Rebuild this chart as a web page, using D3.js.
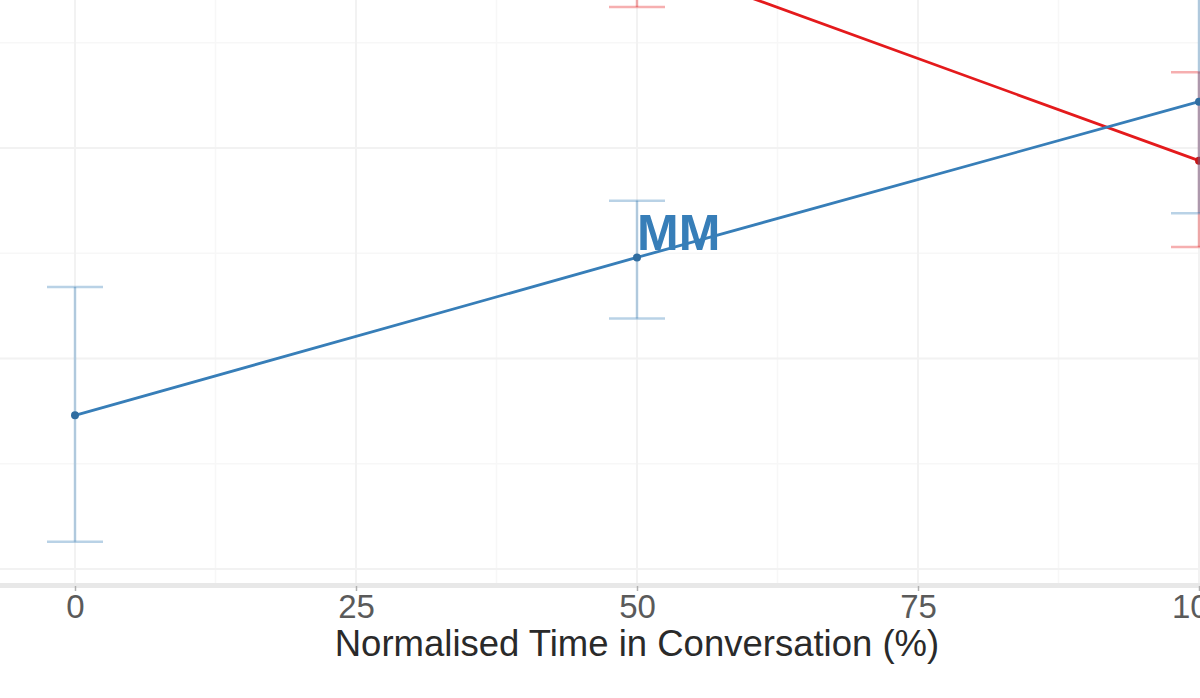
<!DOCTYPE html>
<html>
<head>
<meta charset="utf-8">
<script src="https://cdn.jsdelivr.net/npm/d3@7"></script>
<style>
  body { margin: 0; background: #fff; }
  text { font-family: "Liberation Sans", Arial, sans-serif; }
</style>
</head>
<body>
<svg id="chart"></svg>
<script>
// data (y units are arbitrary, the y axis is cut off)
var times = [0, 50, 100];
var xTicks = [0, 25, 50, 75, 100];
var yMajor = [0.2, 0.3, 0.4];
var yMinor = [0.25, 0.35, 0.45];
var xMinor = [12.5, 37.5, 62.5, 87.5];

var blueMean = [0.273, 0.348, 0.422];
var blueLow  = [0.213, 0.319, 0.369];
var blueHigh = [0.334, 0.375, 0.476];

var redMean = [0.56, 0.491, 0.394];
var redLow  = [0.52, 0.467, 0.353];
var redHigh = [0.60, 0.514, 0.436];

var labelText = "MM";

var W = 1200, H = 698;
var blue = "#377EB8", red = "#E41A1C";

var svg = d3.select("#chart").attr("width", W).attr("height", H);

// panel runs past the window on the right and top
var x = d3.scaleLinear().domain([0, 100]).range([75, 1199]);
var y = d3.scaleLinear().domain([0.2, 0.4]).range([569, 148]);

// grid
var grid = svg.append("g");
grid.selectAll(".ymin").data(yMinor).enter().append("line")
  .attr("x1", 0).attr("x2", W)
  .attr("y1", function(d) { return y(d); }).attr("y2", function(d) { return y(d); })
  .attr("stroke", "#f7f7f7").attr("stroke-width", 1.5);
grid.selectAll(".xmin").data(xMinor).enter().append("line")
  .attr("y1", 0).attr("y2", 583)
  .attr("x1", function(d) { return x(d); }).attr("x2", function(d) { return x(d); })
  .attr("stroke", "#f7f7f7").attr("stroke-width", 1.5);
grid.selectAll(".ymaj").data(yMajor).enter().append("line")
  .attr("x1", 0).attr("x2", W)
  .attr("y1", function(d) { return y(d); }).attr("y2", function(d) { return y(d); })
  .attr("stroke", "#f2f2f2").attr("stroke-width", 2);
grid.selectAll(".xmaj").data(xTicks).enter().append("line")
  .attr("y1", 0).attr("y2", 583)
  .attr("x1", function(d) { return x(d); }).attr("x2", function(d) { return x(d); })
  .attr("stroke", "#f2f2f2").attr("stroke-width", 2);

// axis line + ticks + labels
svg.append("line").attr("x1", 0).attr("x2", W).attr("y1", 585.5).attr("y2", 585.5)
  .attr("stroke", "#e8e8e8").attr("stroke-width", 5);

var xAxis = svg.append("g")
  .attr("transform", "translate(0,586)")
  .call(d3.axisBottom(x).tickValues(xTicks).tickSize(5).tickPadding(4));
xAxis.select(".domain").remove();
xAxis.selectAll(".tick line").attr("stroke", "#b0b0b0").attr("stroke-width", 1.5);
xAxis.selectAll(".tick text")
  .attr("fill", "#5a5a5a")
  .style("font-size", "33px");

svg.append("text")
  .attr("x", x(50)).attr("y", 656)
  .attr("text-anchor", "middle")
  .attr("fill", "#2a2a2a")
  .style("font-size", "36.5px")
  .text("Normalised Time in Conversation (%)");

// one series: error bars, line, points
function drawSeries(mean, low, high, colour) {
  var rows = times.map(function(t, i) {
    return { t: t, m: mean[i], lo: low[i], hi: high[i] };
  });
  var g = svg.append("g");
  var eb = g.selectAll(".eb").data(rows).enter().append("g")
    .attr("stroke", colour).attr("stroke-opacity", 0.35).attr("stroke-width", 2.5);
  eb.append("line")
    .attr("x1", function(d) { return x(d.t); }).attr("x2", function(d) { return x(d.t); })
    .attr("y1", function(d) { return y(d.lo); }).attr("y2", function(d) { return y(d.hi); });
  eb.append("line")
    .attr("x1", function(d) { return x(d.t) - 28; }).attr("x2", function(d) { return x(d.t) + 28; })
    .attr("y1", function(d) { return y(d.lo); }).attr("y2", function(d) { return y(d.lo); });
  eb.append("line")
    .attr("x1", function(d) { return x(d.t) - 28; }).attr("x2", function(d) { return x(d.t) + 28; })
    .attr("y1", function(d) { return y(d.hi); }).attr("y2", function(d) { return y(d.hi); });

  g.append("path")
    .datum(rows)
    .attr("fill", "none")
    .attr("stroke", colour)
    .attr("stroke-width", 2.8)
    .attr("d", d3.line().x(function(d) { return x(d.t); }).y(function(d) { return y(d.m); }));

  g.selectAll(".pt").data(rows).enter().append("circle")
    .attr("cx", function(d) { return x(d.t); })
    .attr("cy", function(d) { return y(d.m); })
    .attr("r", 4)
    .attr("fill", d3.color(colour).darker(0.4));
}

drawSeries(redMean, redLow, redHigh, red);
drawSeries(blueMean, blueLow, blueHigh, blue);

svg.append("text")
  .attr("x", x(50)).attr("y", 250)
  .attr("fill", blue)
  .style("font-size", "50px")
  .style("font-weight", "bold")
  .text(labelText);
</script>
</body>
</html>
